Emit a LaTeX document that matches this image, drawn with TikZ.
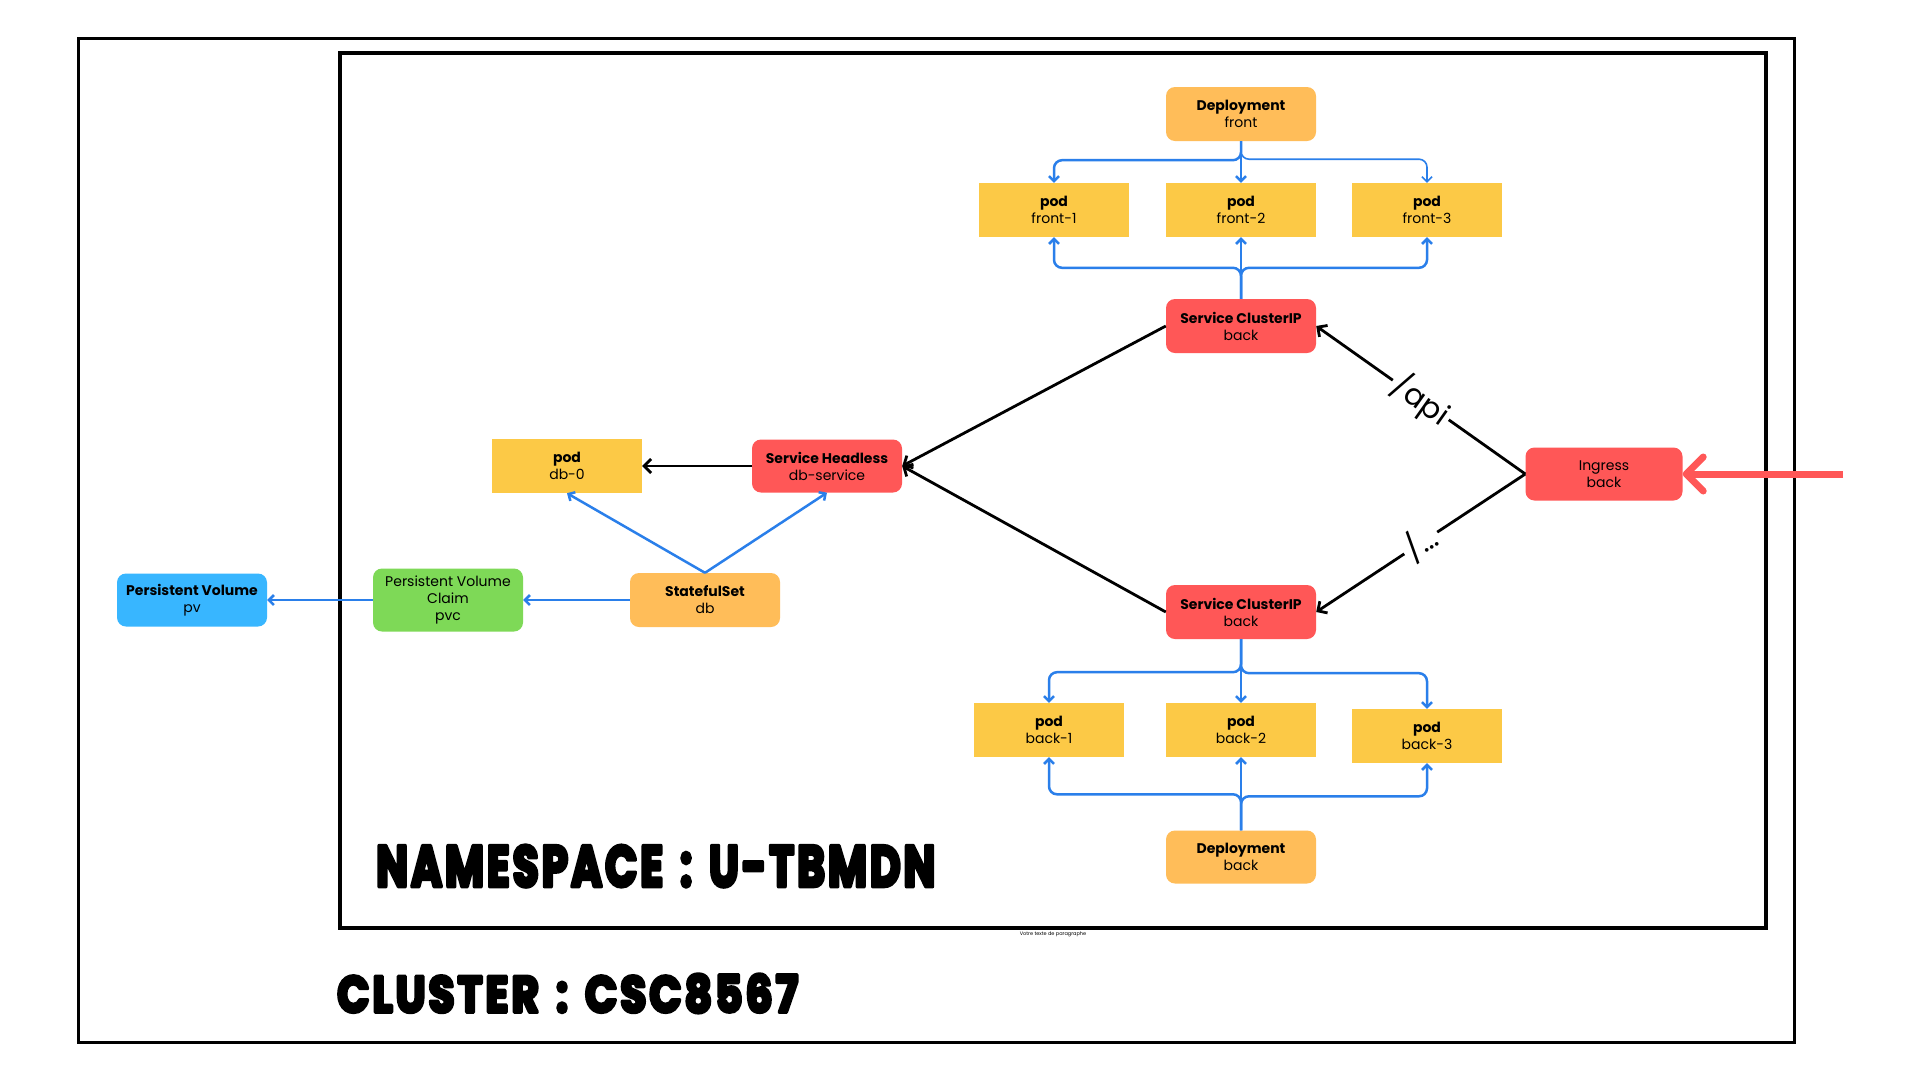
\documentclass[tikz,border=0pt]{standalone}
\usepackage{fontspec}
\setmainfont{Poppins}
\usepackage{graphicx}
\usetikzlibrary{arrows.meta}
\definecolor{cOrange}{HTML}{FFBD59}
\definecolor{cPod}{HTML}{FCC946}
\definecolor{cRed}{HTML}{FF5757}
\definecolor{cGreen}{HTML}{7ED957}
\definecolor{cSky}{HTML}{38B6FF}
\definecolor{cBlue}{HTML}{2A7FEA}
\newcommand{\heavytitle}[1]{\special{pdf:code q 2 Tr 0.7 w 1 j 1 J 0 g 0 G}#1\special{pdf:code Q}}
\begin{document}
\begin{tikzpicture}[x=1pt,y=-1pt,
 box/.style={minimum width=150pt,minimum height=54pt,inner sep=2pt,align=center,font=\fontsize{14}{17}\selectfont,text=black},
 rbox/.style={box,rounded corners=9pt},
 podbox/.style={box,fill=cPod},
 deploybox/.style={rbox,fill=cOrange},
 svcbox/.style={rbox,fill=cRed},
 bluearrow/.style={draw=cBlue,line width=2.5pt,-{Straight Barb[length=5pt,width=10pt]}},
 thinblue/.style={bluearrow,line width=1.6pt},
 blackarrow/.style={draw=black,line width=2.8pt,-{Straight Barb[length=7pt,width=14pt]}},
 redarrow/.style={draw=cRed,line width=7pt,-{Straight Barb[length=17pt,width=34pt,round]}},
 pathlabel/.style={fill=white,sloped,inner sep=3pt,font=\fontsize{30}{30}\selectfont},
 frame/.style={draw=black,line width=3pt}
]
\useasboundingbox[fill=white] (0,0) rectangle (1920,1080);
% frames
\draw[frame] (78,38) rectangle (1794,1042);
\draw[frame,line width=3.5pt] (340,53) rectangle (1766,928);

% nodes
\node[deploybox] (df) at (1241,114) {\textbf{Deployment}\\front};
\node[podbox] (f1) at (1054,210) {\textbf{pod}\\front-1};
\node[podbox] (f2) at (1241,210) {\textbf{pod}\\front-2};
\node[podbox] (f3) at (1427,210) {\textbf{pod}\\front-3};
\node[svcbox] (st) at (1241,326) {\textbf{Service ClusterIP}\\back};
\node[svcbox,minimum width=157pt,minimum height=53pt] (ing) at (1604,474) {Ingress\\back};
\node[svcbox,minimum height=53pt] (hl) at (827,466) {\textbf{Service Headless}\\db-service};
\node[podbox] (pod0) at (567,466) {\textbf{pod}\\db-0};
\node[deploybox] (ss) at (705,600) {\textbf{StatefulSet}\\db};
\node[rbox,fill=cGreen,minimum height=63pt] (pvc) at (448,600) {Persistent Volume\\Claim\\pvc};
\node[rbox,fill=cSky,minimum height=53pt] (pv) at (192,600) {\textbf{Persistent Volume}\\pv};
\node[svcbox] (sb) at (1241,612) {\textbf{Service ClusterIP}\\back};
\node[podbox] (b1) at (1049,730) {\textbf{pod}\\back-1};
\node[podbox] (b2) at (1241,730) {\textbf{pod}\\back-2};
\node[podbox] (b3) at (1427,736) {\textbf{pod}\\back-3};
\node[deploybox,minimum height=53pt] (db) at (1241,857) {\textbf{Deployment}\\back};

% blue connectors: front
\draw[bluearrow,rounded corners=8pt] (df.south) -- ++(0,19) -| (f1.north);
\draw[bluearrow] (df.south) -- (f2.north);
\draw[thinblue,rounded corners=8pt] (df.south) -- ++(0,18) -| (f3.north);
\draw[bluearrow,rounded corners=8pt] (st.north) -- ++(0,-31) -| (f1.south);
\draw[bluearrow] (st.north) -- (f2.south);
\draw[bluearrow,rounded corners=8pt] (st.north) -- ++(0,-31) -| (f3.south);
% blue connectors: back
\draw[bluearrow,rounded corners=8pt] (sb.south) -- ++(0,33) -| (b1.north);
\draw[bluearrow] (sb.south) -- (b2.north);
\draw[bluearrow,rounded corners=8pt] (sb.south) -- ++(0,34) -| (b3.north);
\draw[bluearrow,rounded corners=8pt] (db.north) -- ++(0,-36) -| (b1.south);
\draw[bluearrow] (db.north) -- (b2.south);
\draw[bluearrow,rounded corners=8pt] (db.north) -- ++(0,-34) -| (b3.south);
% statefulset
\draw[bluearrow] (ss.north) -- (pod0.south);
\draw[bluearrow] (ss.north) -- (hl.south);
\draw[bluearrow] (ss.west) -- (pvc.east);
\draw[bluearrow] (pvc.west) -- (pv.east);

% black connectors
\draw[blackarrow] (st.west) -- (hl.east);
\draw[blackarrow] (sb.west) -- (hl.east);
\draw[blackarrow] (hl.west) -- (pod0.east);
\draw[blackarrow] (ing.west) -- node[pathlabel] (lapi) {/api} (st.east);
\draw[blackarrow] (ing.west) -- node[pathlabel] (ldots) {/...} (sb.east);

% red incoming arrow
\coordinate (redstart) at (1843,474);
\draw[redarrow] (redstart) -- (ing.east);

% titles
\node[anchor=south west,inner sep=0pt] (ns) at (376,887) {\resizebox{559pt}{41pt}{\heavytitle{\addfontfeatures{LetterSpace=7}\bfseries NAMESPACE\hspace{0.4em}:\hspace{0.4em}U-TBMDN}}};
\node[anchor=south west,inner sep=0pt] (cl) at (337,1013) {\resizebox{461pt}{38pt}{\heavytitle{\addfontfeatures{LetterSpace=7}\bfseries CLUSTER\hspace{0.4em}:\hspace{0.4em}CSC8567}}};
\node[font=\fontsize{5}{6}\selectfont,inner sep=0pt] (vt) at (1053,934) {Votre texte de paragraphe};
\end{tikzpicture}
\end{document}
